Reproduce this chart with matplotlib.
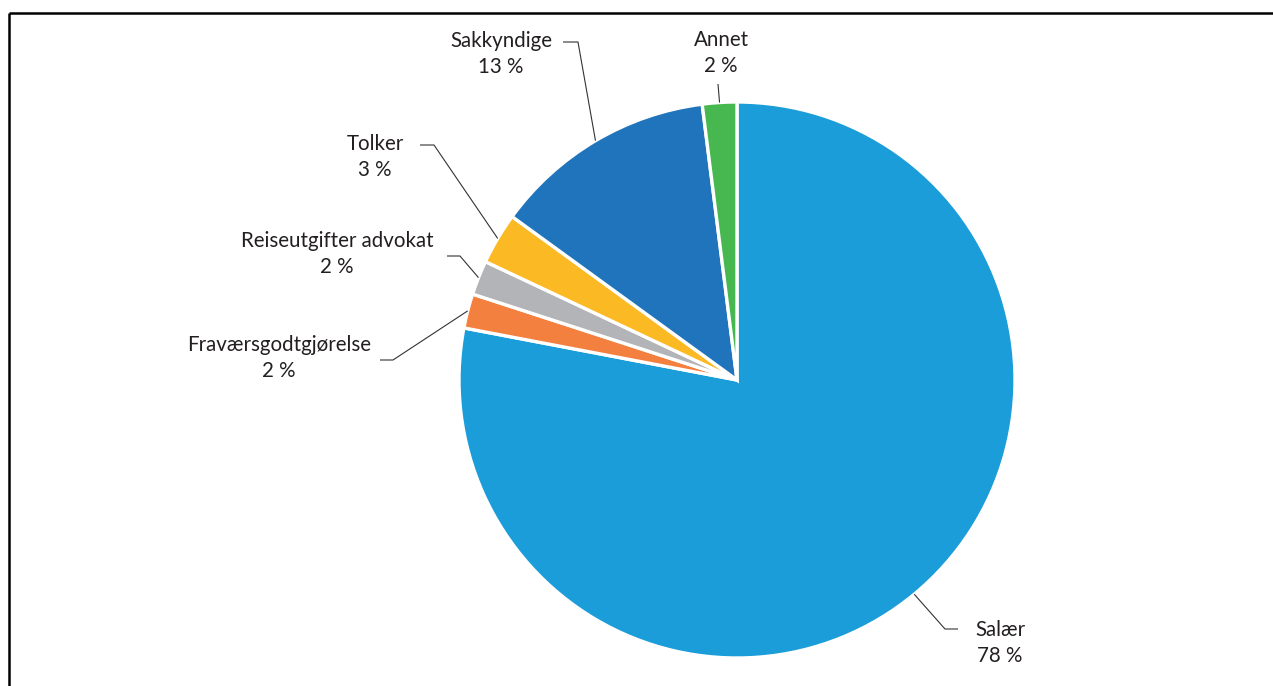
import matplotlib
matplotlib.use("Agg")
import matplotlib.pyplot as plt
import numpy as np

categories = ["Salær", "Fraværsgodtgjørelse", "Reiseutgifter advokat", "Tolker", "Sakkyndige", "Annet"]
values = [78, 2, 2, 3, 13, 2]
colors = ["#1a9dd8", "#f4803f", "#b2b4b7", "#fbb924", "#1f74bb", "#47b74f"]

W, H = 1273, 686
fig = plt.figure(figsize=(W / 100, H / 100), dpi=100)
ax = fig.add_axes([0, 0, 1, 1])

cx, cy, r = 737, H - 380, 278
wedges, _ = ax.pie(values, colors=colors, startangle=90, counterclock=False,
                   center=(cx, cy), radius=r, frame=True,
                   wedgeprops=dict(edgecolor="white", linewidth=2.4))
ax.set_xlim(0, W)
ax.set_ylim(0, H)
ax.set_aspect("equal")
ax.axis("off")

# label layout: text center x, text block center y (px), leader elbow
layout = {
    "Salær": dict(tx=1000, ty=643, hx0=958, hx1=945, hy=629),
    "Fraværsgodtgjørelse": dict(tx=279, ty=358, hx0=380, hx1=393, hy=360),
    "Reiseutgifter advokat": dict(tx=337, ty=254, hx0=447, hx1=460, hy=256),
    "Tolker": dict(tx=375, ty=157, hx0=420, hx1=434, hy=145),
    "Sakkyndige": dict(tx=501, ty=54, hx0=563, hx1=578, hy=42),
    "Annet": dict(tx=721, ty=53, hx0=None, hx1=718, hy=84),
}

txtcol = "#231f20"
for w, cat, val in zip(wedges, categories, values):
    L = layout[cat]
    mid = np.deg2rad((w.theta1 + w.theta2) / 2)
    ex, ey = cx + r * np.cos(mid), cy + r * np.sin(mid)
    ax.text(L["tx"], H - L["ty"], f"{cat}\n{val} %", ha="center", va="center",
            fontsize=14.8, family="Lato", color=txtcol, linespacing=1.38)
    xs = [ex, L["hx1"]]
    ys = [ey, H - L["hy"]]
    if L["hx0"] is not None:
        xs.append(L["hx0"])
        ys.append(H - L["hy"])
    ax.plot(xs, ys, color="#333333", lw=0.8, solid_capstyle="butt")

# frame lines (top and left)
ax.plot([9, W], [H - 13, H - 13], color="black", lw=1.8, solid_capstyle="butt")
ax.plot([9, 9], [0, H - 13], color="black", lw=1.8, solid_capstyle="butt")

fig.savefig("out.png", dpi=100)
